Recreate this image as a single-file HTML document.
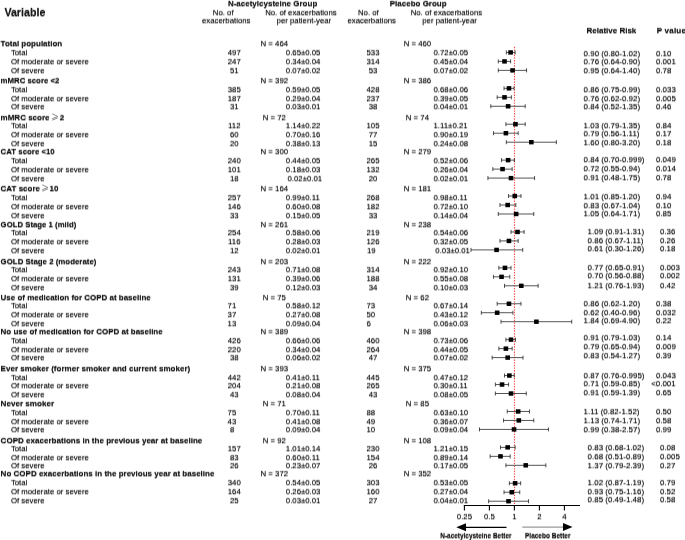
<!DOCTYPE html>
<html><head><meta charset="utf-8"><style>
html,body{margin:0;padding:0;background:#fff;}
body{width:685px;height:540px;position:relative;overflow:hidden;font-family:"Liberation Sans",sans-serif;color:#1a1a1a;}
div{position:absolute;white-space:nowrap;}
#t{left:0;top:0;width:685px;height:540px;filter:grayscale(1);}
#t div{-webkit-text-stroke:0.0px #1a1a1a;text-shadow:0 0.7px 0 rgba(26,26,26,0.45), 0 -0.7px 0 rgba(26,26,26,0.2);}
svg{position:absolute;left:0;top:0;}
</style></head><body>
<svg width="685" height="540" viewBox="0 0 685 540">
<path d="M52.20 113.80 L57.80 116.50 L52.10 118.80 M57.80 117.90 L52.20 120.20" stroke="#666" stroke-width="0.75" fill="none"/>
<path d="M42.30 184.80 L47.90 187.50 L42.20 189.80 M47.90 188.90 L42.30 191.20" stroke="#666" stroke-width="0.75" fill="none"/>
<line x1="514.5" y1="46.8" x2="514.5" y2="505.5" stroke="#ff4d4d" stroke-width="1.15" stroke-dasharray="1.4 1.25"/>
<line x1="506.35" y1="52.43" x2="515.11" y2="52.43" stroke="#555" stroke-width="1"/>
<line x1="506.35" y1="50.43" x2="506.35" y2="54.43" stroke="#222" stroke-width="0.8"/>
<line x1="515.11" y1="50.43" x2="515.11" y2="54.43" stroke="#222" stroke-width="0.8"/>
<rect x="508.30" y="50.23" width="4.6" height="4.4" fill="#000"/>
<line x1="498.30" y1="61.40" x2="510.60" y2="61.40" stroke="#555" stroke-width="1"/>
<line x1="498.30" y1="59.40" x2="498.30" y2="63.40" stroke="#222" stroke-width="0.8"/>
<line x1="510.60" y1="59.40" x2="510.60" y2="63.40" stroke="#222" stroke-width="0.8"/>
<rect x="502.20" y="59.20" width="4.6" height="4.4" fill="#000"/>
<line x1="498.30" y1="70.38" x2="526.54" y2="70.38" stroke="#555" stroke-width="1"/>
<line x1="498.30" y1="68.38" x2="498.30" y2="72.38" stroke="#222" stroke-width="0.8"/>
<line x1="526.54" y1="68.38" x2="526.54" y2="72.38" stroke="#222" stroke-width="0.8"/>
<rect x="510.25" y="68.18" width="4.6" height="4.4" fill="#000"/>
<line x1="504.02" y1="88.33" x2="514.04" y2="88.33" stroke="#555" stroke-width="1"/>
<line x1="504.02" y1="86.33" x2="504.02" y2="90.33" stroke="#222" stroke-width="0.8"/>
<line x1="514.04" y1="86.33" x2="514.04" y2="90.33" stroke="#222" stroke-width="0.8"/>
<rect x="506.66" y="86.13" width="4.6" height="4.4" fill="#000"/>
<line x1="497.16" y1="97.31" x2="511.39" y2="97.31" stroke="#555" stroke-width="1"/>
<line x1="497.16" y1="95.31" x2="497.16" y2="99.31" stroke="#222" stroke-width="0.8"/>
<line x1="511.39" y1="95.31" x2="511.39" y2="99.31" stroke="#222" stroke-width="0.8"/>
<rect x="502.20" y="95.11" width="4.6" height="4.4" fill="#000"/>
<line x1="490.81" y1="106.28" x2="525.22" y2="106.28" stroke="#555" stroke-width="1"/>
<line x1="490.81" y1="104.28" x2="490.81" y2="108.28" stroke="#222" stroke-width="0.8"/>
<line x1="525.22" y1="104.28" x2="525.22" y2="108.28" stroke="#222" stroke-width="0.8"/>
<rect x="505.81" y="104.08" width="4.6" height="4.4" fill="#000"/>
<line x1="505.90" y1="124.23" x2="525.22" y2="124.23" stroke="#555" stroke-width="1"/>
<line x1="505.90" y1="122.23" x2="505.90" y2="126.23" stroke="#222" stroke-width="0.8"/>
<line x1="525.22" y1="122.23" x2="525.22" y2="126.23" stroke="#222" stroke-width="0.8"/>
<rect x="513.17" y="122.03" width="4.6" height="4.4" fill="#000"/>
<line x1="493.49" y1="133.21" x2="518.16" y2="133.21" stroke="#555" stroke-width="1"/>
<line x1="493.49" y1="131.21" x2="493.49" y2="135.21" stroke="#222" stroke-width="0.8"/>
<line x1="518.16" y1="131.21" x2="518.16" y2="135.21" stroke="#222" stroke-width="0.8"/>
<rect x="503.60" y="131.01" width="4.6" height="4.4" fill="#000"/>
<line x1="506.35" y1="142.19" x2="556.35" y2="142.19" stroke="#555" stroke-width="1"/>
<line x1="506.35" y1="140.19" x2="506.35" y2="144.19" stroke="#222" stroke-width="0.8"/>
<line x1="556.35" y1="140.19" x2="556.35" y2="144.19" stroke="#222" stroke-width="0.8"/>
<rect x="529.05" y="139.99" width="4.6" height="4.4" fill="#000"/>
<line x1="501.54" y1="160.14" x2="514.36" y2="160.14" stroke="#555" stroke-width="1"/>
<line x1="501.54" y1="158.14" x2="501.54" y2="162.14" stroke="#222" stroke-width="0.8"/>
<line x1="514.36" y1="158.14" x2="514.36" y2="162.14" stroke="#222" stroke-width="0.8"/>
<rect x="505.81" y="157.94" width="4.6" height="4.4" fill="#000"/>
<line x1="492.84" y1="169.11" x2="512.17" y2="169.11" stroke="#555" stroke-width="1"/>
<line x1="492.84" y1="167.11" x2="492.84" y2="171.11" stroke="#222" stroke-width="0.8"/>
<line x1="512.17" y1="167.11" x2="512.17" y2="171.11" stroke="#222" stroke-width="0.8"/>
<rect x="500.25" y="166.91" width="4.6" height="4.4" fill="#000"/>
<line x1="487.93" y1="178.09" x2="534.58" y2="178.09" stroke="#555" stroke-width="1"/>
<line x1="487.93" y1="176.09" x2="487.93" y2="180.09" stroke="#222" stroke-width="0.8"/>
<line x1="534.58" y1="176.09" x2="534.58" y2="180.09" stroke="#222" stroke-width="0.8"/>
<rect x="508.70" y="175.89" width="4.6" height="4.4" fill="#000"/>
<line x1="508.54" y1="196.04" x2="520.98" y2="196.04" stroke="#555" stroke-width="1"/>
<line x1="508.54" y1="194.04" x2="508.54" y2="198.04" stroke="#222" stroke-width="0.8"/>
<line x1="520.98" y1="194.04" x2="520.98" y2="198.04" stroke="#222" stroke-width="0.8"/>
<rect x="512.46" y="193.84" width="4.6" height="4.4" fill="#000"/>
<line x1="499.96" y1="205.02" x2="515.81" y2="205.02" stroke="#555" stroke-width="1"/>
<line x1="499.96" y1="203.02" x2="499.96" y2="207.02" stroke="#222" stroke-width="0.8"/>
<line x1="515.81" y1="203.02" x2="515.81" y2="207.02" stroke="#222" stroke-width="0.8"/>
<rect x="505.38" y="202.82" width="4.6" height="4.4" fill="#000"/>
<line x1="498.30" y1="213.99" x2="533.75" y2="213.99" stroke="#555" stroke-width="1"/>
<line x1="498.30" y1="211.99" x2="498.30" y2="215.99" stroke="#222" stroke-width="0.8"/>
<line x1="533.75" y1="211.99" x2="533.75" y2="215.99" stroke="#222" stroke-width="0.8"/>
<rect x="513.86" y="211.79" width="4.6" height="4.4" fill="#000"/>
<line x1="511.00" y1="231.95" x2="524.14" y2="231.95" stroke="#555" stroke-width="1"/>
<line x1="511.00" y1="229.95" x2="511.00" y2="233.95" stroke="#222" stroke-width="0.8"/>
<line x1="524.14" y1="229.95" x2="524.14" y2="233.95" stroke="#222" stroke-width="0.8"/>
<rect x="515.21" y="229.75" width="4.6" height="4.4" fill="#000"/>
<line x1="499.96" y1="240.92" x2="518.16" y2="240.92" stroke="#555" stroke-width="1"/>
<line x1="499.96" y1="238.92" x2="499.96" y2="242.92" stroke="#222" stroke-width="0.8"/>
<line x1="518.16" y1="238.92" x2="518.16" y2="242.92" stroke="#222" stroke-width="0.8"/>
<rect x="506.66" y="238.72" width="4.6" height="4.4" fill="#000"/>
<line x1="470.98" y1="249.90" x2="522.74" y2="249.90" stroke="#555" stroke-width="1"/>
<line x1="470.98" y1="247.90" x2="470.98" y2="251.90" stroke="#222" stroke-width="0.8"/>
<line x1="522.74" y1="247.90" x2="522.74" y2="251.90" stroke="#222" stroke-width="0.8"/>
<rect x="494.27" y="247.70" width="4.6" height="4.4" fill="#000"/>
<line x1="498.86" y1="267.85" x2="511.00" y2="267.85" stroke="#555" stroke-width="1"/>
<line x1="498.86" y1="265.85" x2="498.86" y2="269.85" stroke="#222" stroke-width="0.8"/>
<line x1="511.00" y1="265.85" x2="511.00" y2="269.85" stroke="#222" stroke-width="0.8"/>
<rect x="502.67" y="265.65" width="4.6" height="4.4" fill="#000"/>
<line x1="493.49" y1="276.83" x2="509.79" y2="276.83" stroke="#555" stroke-width="1"/>
<line x1="493.49" y1="274.83" x2="493.49" y2="278.83" stroke="#222" stroke-width="0.8"/>
<line x1="509.79" y1="274.83" x2="509.79" y2="278.83" stroke="#222" stroke-width="0.8"/>
<rect x="499.24" y="274.63" width="4.6" height="4.4" fill="#000"/>
<line x1="504.50" y1="285.80" x2="538.12" y2="285.80" stroke="#555" stroke-width="1"/>
<line x1="504.50" y1="283.80" x2="504.50" y2="287.80" stroke="#222" stroke-width="0.8"/>
<line x1="538.12" y1="283.80" x2="538.12" y2="287.80" stroke="#222" stroke-width="0.8"/>
<rect x="518.98" y="283.60" width="4.6" height="4.4" fill="#000"/>
<line x1="497.16" y1="303.75" x2="520.98" y2="303.75" stroke="#555" stroke-width="1"/>
<line x1="497.16" y1="301.75" x2="497.16" y2="305.75" stroke="#222" stroke-width="0.8"/>
<line x1="520.98" y1="301.75" x2="520.98" y2="305.75" stroke="#222" stroke-width="0.8"/>
<rect x="506.66" y="301.55" width="4.6" height="4.4" fill="#000"/>
<line x1="481.35" y1="312.73" x2="512.93" y2="312.73" stroke="#555" stroke-width="1"/>
<line x1="481.35" y1="310.73" x2="481.35" y2="314.73" stroke="#222" stroke-width="0.8"/>
<line x1="512.93" y1="310.73" x2="512.93" y2="314.73" stroke="#222" stroke-width="0.8"/>
<rect x="494.86" y="310.53" width="4.6" height="4.4" fill="#000"/>
<line x1="501.02" y1="321.71" x2="571.72" y2="321.71" stroke="#555" stroke-width="1"/>
<line x1="501.02" y1="319.71" x2="501.02" y2="323.71" stroke="#222" stroke-width="0.8"/>
<line x1="571.72" y1="319.71" x2="571.72" y2="323.71" stroke="#222" stroke-width="0.8"/>
<rect x="534.09" y="319.51" width="4.6" height="4.4" fill="#000"/>
<line x1="505.90" y1="339.66" x2="515.47" y2="339.66" stroke="#555" stroke-width="1"/>
<line x1="505.90" y1="337.66" x2="505.90" y2="341.66" stroke="#222" stroke-width="0.8"/>
<line x1="515.47" y1="337.66" x2="515.47" y2="341.66" stroke="#222" stroke-width="0.8"/>
<rect x="508.70" y="337.46" width="4.6" height="4.4" fill="#000"/>
<line x1="498.86" y1="348.63" x2="512.17" y2="348.63" stroke="#555" stroke-width="1"/>
<line x1="498.86" y1="346.63" x2="498.86" y2="350.63" stroke="#222" stroke-width="0.8"/>
<line x1="512.17" y1="346.63" x2="512.17" y2="350.63" stroke="#222" stroke-width="0.8"/>
<rect x="503.60" y="346.43" width="4.6" height="4.4" fill="#000"/>
<line x1="492.18" y1="357.61" x2="523.02" y2="357.61" stroke="#555" stroke-width="1"/>
<line x1="492.18" y1="355.61" x2="492.18" y2="359.61" stroke="#222" stroke-width="0.8"/>
<line x1="523.02" y1="355.61" x2="523.02" y2="359.61" stroke="#222" stroke-width="0.8"/>
<rect x="505.38" y="355.41" width="4.6" height="4.4" fill="#000"/>
<line x1="504.50" y1="375.56" x2="514.22" y2="375.56" stroke="#555" stroke-width="1"/>
<line x1="504.50" y1="373.56" x2="504.50" y2="377.56" stroke="#222" stroke-width="0.8"/>
<line x1="514.22" y1="373.56" x2="514.22" y2="377.56" stroke="#222" stroke-width="0.8"/>
<rect x="507.08" y="373.36" width="4.6" height="4.4" fill="#000"/>
<line x1="495.37" y1="384.54" x2="508.54" y2="384.54" stroke="#555" stroke-width="1"/>
<line x1="495.37" y1="382.54" x2="495.37" y2="386.54" stroke="#222" stroke-width="0.8"/>
<line x1="508.54" y1="382.54" x2="508.54" y2="386.54" stroke="#222" stroke-width="0.8"/>
<rect x="499.75" y="382.34" width="4.6" height="4.4" fill="#000"/>
<line x1="495.37" y1="393.51" x2="526.28" y2="393.51" stroke="#555" stroke-width="1"/>
<line x1="495.37" y1="391.51" x2="495.37" y2="395.51" stroke="#222" stroke-width="0.8"/>
<line x1="526.28" y1="391.51" x2="526.28" y2="395.51" stroke="#222" stroke-width="0.8"/>
<rect x="508.70" y="391.31" width="4.6" height="4.4" fill="#000"/>
<line x1="507.24" y1="411.47" x2="529.50" y2="411.47" stroke="#555" stroke-width="1"/>
<line x1="507.24" y1="409.47" x2="507.24" y2="413.47" stroke="#222" stroke-width="0.8"/>
<line x1="529.50" y1="409.47" x2="529.50" y2="413.47" stroke="#222" stroke-width="0.8"/>
<rect x="515.86" y="409.27" width="4.6" height="4.4" fill="#000"/>
<line x1="503.54" y1="420.44" x2="533.75" y2="420.44" stroke="#555" stroke-width="1"/>
<line x1="503.54" y1="418.44" x2="503.54" y2="422.44" stroke="#222" stroke-width="0.8"/>
<line x1="533.75" y1="418.44" x2="533.75" y2="422.44" stroke="#222" stroke-width="0.8"/>
<rect x="516.51" y="418.24" width="4.6" height="4.4" fill="#000"/>
<line x1="479.50" y1="429.42" x2="548.44" y2="429.42" stroke="#555" stroke-width="1"/>
<line x1="479.50" y1="427.42" x2="479.50" y2="431.42" stroke="#222" stroke-width="0.8"/>
<line x1="548.44" y1="427.42" x2="548.44" y2="431.42" stroke="#222" stroke-width="0.8"/>
<rect x="511.74" y="427.22" width="4.6" height="4.4" fill="#000"/>
<line x1="500.49" y1="447.37" x2="515.11" y2="447.37" stroke="#555" stroke-width="1"/>
<line x1="500.49" y1="445.37" x2="500.49" y2="449.37" stroke="#222" stroke-width="0.8"/>
<line x1="515.11" y1="445.37" x2="515.11" y2="449.37" stroke="#222" stroke-width="0.8"/>
<rect x="505.38" y="445.17" width="4.6" height="4.4" fill="#000"/>
<line x1="490.11" y1="456.35" x2="510.20" y2="456.35" stroke="#555" stroke-width="1"/>
<line x1="490.11" y1="454.35" x2="490.11" y2="458.35" stroke="#222" stroke-width="0.8"/>
<line x1="510.20" y1="454.35" x2="510.20" y2="458.35" stroke="#222" stroke-width="0.8"/>
<rect x="498.19" y="454.15" width="4.6" height="4.4" fill="#000"/>
<line x1="505.90" y1="465.32" x2="545.83" y2="465.32" stroke="#555" stroke-width="1"/>
<line x1="505.90" y1="463.32" x2="505.90" y2="467.32" stroke="#222" stroke-width="0.8"/>
<line x1="545.83" y1="463.32" x2="545.83" y2="467.32" stroke="#222" stroke-width="0.8"/>
<rect x="523.45" y="463.12" width="4.6" height="4.4" fill="#000"/>
<line x1="509.38" y1="483.27" x2="520.67" y2="483.27" stroke="#555" stroke-width="1"/>
<line x1="509.38" y1="481.27" x2="509.38" y2="485.27" stroke="#222" stroke-width="0.8"/>
<line x1="520.67" y1="481.27" x2="520.67" y2="485.27" stroke="#222" stroke-width="0.8"/>
<rect x="512.81" y="481.07" width="4.6" height="4.4" fill="#000"/>
<line x1="504.02" y1="492.25" x2="519.75" y2="492.25" stroke="#555" stroke-width="1"/>
<line x1="504.02" y1="490.25" x2="504.02" y2="494.25" stroke="#222" stroke-width="0.8"/>
<line x1="519.75" y1="490.25" x2="519.75" y2="494.25" stroke="#222" stroke-width="0.8"/>
<rect x="509.48" y="490.05" width="4.6" height="4.4" fill="#000"/>
<line x1="488.67" y1="501.23" x2="528.54" y2="501.23" stroke="#555" stroke-width="1"/>
<line x1="488.67" y1="499.23" x2="488.67" y2="503.23" stroke="#222" stroke-width="0.8"/>
<line x1="528.54" y1="499.23" x2="528.54" y2="503.23" stroke="#222" stroke-width="0.8"/>
<rect x="506.24" y="499.03" width="4.6" height="4.4" fill="#000"/>
<line x1="463.8" y1="505.5" x2="580" y2="505.5" stroke="#000" stroke-width="1.2"/>
<line x1="464.40" y1="505.5" x2="464.40" y2="510.4" stroke="#000" stroke-width="1.1"/>
<line x1="489.40" y1="505.5" x2="489.40" y2="510.4" stroke="#000" stroke-width="1.1"/>
<line x1="514.40" y1="505.5" x2="514.40" y2="510.4" stroke="#000" stroke-width="1.1"/>
<line x1="539.40" y1="505.5" x2="539.40" y2="510.4" stroke="#000" stroke-width="1.1"/>
<line x1="564.40" y1="505.5" x2="564.40" y2="510.4" stroke="#000" stroke-width="1.1"/>
<line x1="465" y1="527.3" x2="506.5" y2="527.3" stroke="#000" stroke-width="1.3"/>
<polygon points="456.3,527.2 466,523.2 466,531.2" fill="#000"/>
<line x1="522.3" y1="527.2" x2="564" y2="527.2" stroke="#999" stroke-width="1.3"/>
<polygon points="572.5,527.1 563,523.1 563,531.1" fill="#000"/>
</svg>
<div id="t">
<div style="left:4.40px;top:7.00px;font-size:10.7px;line-height:10.7px;font-weight:bold">Variable</div>
<div style="left:212.60px;width:120px;text-align:center;top:0.00px;font-size:8.0px;line-height:8.0px;font-weight:bold">N-acetylcysteine Group</div>
<div style="left:163.20px;width:120px;text-align:center;top:9.00px;font-size:7.8px;line-height:7.8px">No. of</div>
<div style="left:166.20px;width:120px;text-align:center;top:17.00px;font-size:7.8px;line-height:7.8px">exacerbations</div>
<div style="left:240.90px;width:120px;text-align:center;top:9.00px;font-size:7.8px;line-height:7.8px">No. of exacerbations</div>
<div style="left:243.90px;width:120px;text-align:center;top:17.00px;font-size:7.8px;line-height:7.8px">per patient-year</div>
<div style="left:358.20px;width:120px;text-align:center;top:0.00px;font-size:8.0px;line-height:8.0px;font-weight:bold">Placebo Group</div>
<div style="left:308.40px;width:120px;text-align:center;top:9.00px;font-size:7.8px;line-height:7.8px">No. of</div>
<div style="left:311.70px;width:120px;text-align:center;top:17.00px;font-size:7.8px;line-height:7.8px">exacerbations</div>
<div style="left:386.40px;width:120px;text-align:center;top:9.00px;font-size:7.8px;line-height:7.8px">No. of exacerbations</div>
<div style="left:389.60px;width:120px;text-align:center;top:17.00px;font-size:7.8px;line-height:7.8px">per patient-year</div>
<div style="left:586.50px;top:27.00px;font-size:8.0px;line-height:8.0px;font-weight:bold">Relative Risk</div>
<div style="left:656.70px;top:27.00px;font-size:8.0px;line-height:8.0px;font-weight:bold;letter-spacing:0.22px">P value</div>
<div style="left:0.60px;top:40.00px;font-size:8.0px;line-height:8.0px;font-weight:bold">Total population</div>
<div style="left:214.30px;width:120px;text-align:center;top:40.00px;font-size:7.8px;line-height:7.8px">N = 464</div>
<div style="left:357.40px;width:120px;text-align:center;top:40.00px;font-size:7.8px;line-height:7.8px">N = 460</div>
<div style="left:10.90px;top:49.00px;font-size:7.8px;line-height:7.8px">Total</div>
<div style="left:174.30px;width:120px;text-align:center;top:49.00px;font-size:7.8px;line-height:7.8px">497</div>
<div style="left:285.80px;top:49.00px;font-size:7.8px;line-height:7.8px">0.65±0.05</div>
<div style="left:313.00px;width:120px;text-align:center;top:49.00px;font-size:7.8px;line-height:7.8px">533</div>
<div style="left:433.50px;top:49.00px;font-size:7.8px;line-height:7.8px">0.72±0.05</div>
<div style="left:583.60px;top:50.00px;font-size:7.95px;line-height:7.95px">0.90 (0.80-1.02)</div>
<div style="left:656.00px;top:50.00px;font-size:7.95px;line-height:7.95px">0.10</div>
<div style="left:10.90px;top:58.00px;font-size:7.8px;line-height:7.8px">Of moderate or severe</div>
<div style="left:174.30px;width:120px;text-align:center;top:58.00px;font-size:7.8px;line-height:7.8px">247</div>
<div style="left:285.80px;top:58.00px;font-size:7.8px;line-height:7.8px">0.34±0.04</div>
<div style="left:313.00px;width:120px;text-align:center;top:58.00px;font-size:7.8px;line-height:7.8px">314</div>
<div style="left:433.50px;top:58.00px;font-size:7.8px;line-height:7.8px">0.45±0.04</div>
<div style="left:583.60px;top:58.00px;font-size:7.95px;line-height:7.95px">0.76 (0.64-0.90)</div>
<div style="left:656.00px;top:58.00px;font-size:7.95px;line-height:7.95px">0.001</div>
<div style="left:10.90px;top:67.00px;font-size:7.8px;line-height:7.8px">Of severe</div>
<div style="left:174.30px;width:120px;text-align:center;top:67.00px;font-size:7.8px;line-height:7.8px">51</div>
<div style="left:285.80px;top:67.00px;font-size:7.8px;line-height:7.8px">0.07±0.02</div>
<div style="left:313.00px;width:120px;text-align:center;top:67.00px;font-size:7.8px;line-height:7.8px">53</div>
<div style="left:433.50px;top:67.00px;font-size:7.8px;line-height:7.8px">0.07±0.02</div>
<div style="left:583.60px;top:67.00px;font-size:7.95px;line-height:7.95px">0.95 (0.64-1.40)</div>
<div style="left:656.00px;top:67.00px;font-size:7.95px;line-height:7.95px">0.78</div>
<div style="left:0.60px;top:77.00px;font-size:7.81px;line-height:7.81px;font-weight:bold">mMRC score &lt;2</div>
<div style="left:214.30px;width:120px;text-align:center;top:77.00px;font-size:7.8px;line-height:7.8px">N = 392</div>
<div style="left:357.40px;width:120px;text-align:center;top:77.00px;font-size:7.8px;line-height:7.8px">N = 386</div>
<div style="left:10.90px;top:86.00px;font-size:7.8px;line-height:7.8px">Total</div>
<div style="left:174.30px;width:120px;text-align:center;top:86.00px;font-size:7.8px;line-height:7.8px">385</div>
<div style="left:285.80px;top:86.00px;font-size:7.8px;line-height:7.8px">0.59±0.05</div>
<div style="left:313.00px;width:120px;text-align:center;top:86.00px;font-size:7.8px;line-height:7.8px">428</div>
<div style="left:433.50px;top:86.00px;font-size:7.8px;line-height:7.8px">0.68±0.06</div>
<div style="left:583.60px;top:86.00px;font-size:7.95px;line-height:7.95px">0.86 (0.75-0.99)</div>
<div style="left:656.00px;top:86.00px;font-size:7.95px;line-height:7.95px">0.033</div>
<div style="left:10.90px;top:95.00px;font-size:7.8px;line-height:7.8px">Of moderate or severe</div>
<div style="left:174.30px;width:120px;text-align:center;top:95.00px;font-size:7.8px;line-height:7.8px">187</div>
<div style="left:285.80px;top:95.00px;font-size:7.8px;line-height:7.8px">0.29±0.04</div>
<div style="left:313.00px;width:120px;text-align:center;top:95.00px;font-size:7.8px;line-height:7.8px">237</div>
<div style="left:433.50px;top:95.00px;font-size:7.8px;line-height:7.8px">0.39±0.05</div>
<div style="left:583.60px;top:95.00px;font-size:7.95px;line-height:7.95px">0.76 (0.62-0.92)</div>
<div style="left:656.00px;top:95.00px;font-size:7.95px;line-height:7.95px">0.005</div>
<div style="left:10.90px;top:103.00px;font-size:7.8px;line-height:7.8px">Of severe</div>
<div style="left:174.30px;width:120px;text-align:center;top:103.00px;font-size:7.8px;line-height:7.8px">31</div>
<div style="left:285.80px;top:103.00px;font-size:7.8px;line-height:7.8px">0.03±0.01</div>
<div style="left:313.00px;width:120px;text-align:center;top:103.00px;font-size:7.8px;line-height:7.8px">38</div>
<div style="left:433.50px;top:103.00px;font-size:7.8px;line-height:7.8px">0.04±0.01</div>
<div style="left:583.60px;top:103.00px;font-size:7.95px;line-height:7.95px">0.84 (0.52-1.35)</div>
<div style="left:656.00px;top:103.00px;font-size:7.95px;line-height:7.95px">0.46</div>
<div style="left:0.60px;top:114.00px;font-size:8.0px;line-height:8.0px;font-weight:bold">mMRC score</div>
<div style="left:59.70px;top:114.00px;font-size:8.0px;line-height:8.0px;font-weight:bold">2</div>
<div style="left:214.30px;width:120px;text-align:center;top:114.00px;font-size:7.8px;line-height:7.8px">N = 72</div>
<div style="left:357.40px;width:120px;text-align:center;top:114.00px;font-size:7.8px;line-height:7.8px">N = 74</div>
<div style="left:10.90px;top:122.00px;font-size:7.8px;line-height:7.8px">Total</div>
<div style="left:174.30px;width:120px;text-align:center;top:122.00px;font-size:7.8px;line-height:7.8px">112</div>
<div style="left:285.80px;top:122.00px;font-size:7.8px;line-height:7.8px">1.14±0.22</div>
<div style="left:313.00px;width:120px;text-align:center;top:122.00px;font-size:7.8px;line-height:7.8px">105</div>
<div style="left:433.50px;top:122.00px;font-size:7.8px;line-height:7.8px">1.11±0.21</div>
<div style="left:583.60px;top:122.00px;font-size:7.95px;line-height:7.95px">1.03 (0.79-1.35)</div>
<div style="left:656.00px;top:122.00px;font-size:7.95px;line-height:7.95px">0.84</div>
<div style="left:10.90px;top:131.00px;font-size:7.8px;line-height:7.8px">Of moderate or severe</div>
<div style="left:174.30px;width:120px;text-align:center;top:131.00px;font-size:7.8px;line-height:7.8px">60</div>
<div style="left:285.80px;top:131.00px;font-size:7.8px;line-height:7.8px">0.70±0.16</div>
<div style="left:313.00px;width:120px;text-align:center;top:131.00px;font-size:7.8px;line-height:7.8px">77</div>
<div style="left:433.50px;top:131.00px;font-size:7.8px;line-height:7.8px">0.90±0.19</div>
<div style="left:583.60px;top:130.00px;font-size:7.95px;line-height:7.95px">0.79 (0.56-1.11)</div>
<div style="left:656.00px;top:130.00px;font-size:7.95px;line-height:7.95px">0.17</div>
<div style="left:10.90px;top:140.00px;font-size:7.8px;line-height:7.8px">Of severe</div>
<div style="left:174.30px;width:120px;text-align:center;top:140.00px;font-size:7.8px;line-height:7.8px">20</div>
<div style="left:285.80px;top:140.00px;font-size:7.8px;line-height:7.8px">0.38±0.13</div>
<div style="left:313.00px;width:120px;text-align:center;top:140.00px;font-size:7.8px;line-height:7.8px">15</div>
<div style="left:433.50px;top:140.00px;font-size:7.8px;line-height:7.8px">0.24±0.08</div>
<div style="left:583.60px;top:139.00px;font-size:7.95px;line-height:7.95px">1.60 (0.80-3.20)</div>
<div style="left:656.00px;top:139.00px;font-size:7.95px;line-height:7.95px">0.18</div>
<div style="left:0.60px;top:148.00px;font-size:7.85px;line-height:7.85px;font-weight:bold">CAT score &lt;10</div>
<div style="left:214.30px;width:120px;text-align:center;top:148.00px;font-size:7.8px;line-height:7.8px">N = 300</div>
<div style="left:357.40px;width:120px;text-align:center;top:148.00px;font-size:7.8px;line-height:7.8px">N = 279</div>
<div style="left:10.90px;top:157.00px;font-size:7.8px;line-height:7.8px">Total</div>
<div style="left:174.30px;width:120px;text-align:center;top:157.00px;font-size:7.8px;line-height:7.8px">240</div>
<div style="left:285.80px;top:157.00px;font-size:7.8px;line-height:7.8px">0.44±0.05</div>
<div style="left:313.00px;width:120px;text-align:center;top:157.00px;font-size:7.8px;line-height:7.8px">265</div>
<div style="left:433.50px;top:157.00px;font-size:7.8px;line-height:7.8px">0.52±0.06</div>
<div style="left:583.60px;top:156.00px;font-size:7.95px;line-height:7.95px">0.84 (0.70-0.999)</div>
<div style="left:656.00px;top:156.00px;font-size:7.95px;line-height:7.95px">0.049</div>
<div style="left:10.90px;top:166.00px;font-size:7.8px;line-height:7.8px">Of moderate or severe</div>
<div style="left:174.30px;width:120px;text-align:center;top:166.00px;font-size:7.8px;line-height:7.8px">101</div>
<div style="left:285.80px;top:166.00px;font-size:7.8px;line-height:7.8px">0.18±0.03</div>
<div style="left:313.00px;width:120px;text-align:center;top:166.00px;font-size:7.8px;line-height:7.8px">132</div>
<div style="left:433.50px;top:166.00px;font-size:7.8px;line-height:7.8px">0.26±0.04</div>
<div style="left:583.60px;top:165.00px;font-size:7.95px;line-height:7.95px">0.72 (0.55-0.94)</div>
<div style="left:656.00px;top:165.00px;font-size:7.95px;line-height:7.95px">0.014</div>
<div style="left:10.90px;top:175.00px;font-size:7.8px;line-height:7.8px">Of severe</div>
<div style="left:174.30px;width:120px;text-align:center;top:175.00px;font-size:7.8px;line-height:7.8px">18</div>
<div style="left:287.50px;top:175.00px;font-size:7.8px;line-height:7.8px">0.02±0.01</div>
<div style="left:313.00px;width:120px;text-align:center;top:175.00px;font-size:7.8px;line-height:7.8px">20</div>
<div style="left:433.50px;top:175.00px;font-size:7.8px;line-height:7.8px">0.02±0.01</div>
<div style="left:583.60px;top:174.00px;font-size:7.95px;line-height:7.95px">0.91 (0.48-1.75)</div>
<div style="left:656.00px;top:174.00px;font-size:7.95px;line-height:7.95px">0.78</div>
<div style="left:0.60px;top:185.00px;font-size:8.0px;line-height:8.0px;font-weight:bold">CAT score</div>
<div style="left:49.60px;top:185.00px;font-size:8.0px;line-height:8.0px;font-weight:bold">10</div>
<div style="left:214.30px;width:120px;text-align:center;top:185.00px;font-size:7.8px;line-height:7.8px">N = 164</div>
<div style="left:357.40px;width:120px;text-align:center;top:185.00px;font-size:7.8px;line-height:7.8px">N = 181</div>
<div style="left:10.90px;top:194.00px;font-size:7.8px;line-height:7.8px">Total</div>
<div style="left:174.30px;width:120px;text-align:center;top:194.00px;font-size:7.8px;line-height:7.8px">257</div>
<div style="left:285.80px;top:194.00px;font-size:7.8px;line-height:7.8px">0.99±0.11</div>
<div style="left:313.00px;width:120px;text-align:center;top:194.00px;font-size:7.8px;line-height:7.8px">268</div>
<div style="left:433.50px;top:194.00px;font-size:7.8px;line-height:7.8px">0.98±0.11</div>
<div style="left:583.60px;top:193.00px;font-size:7.95px;line-height:7.95px">1.01 (0.85-1.20)</div>
<div style="left:656.00px;top:193.00px;font-size:7.95px;line-height:7.95px">0.94</div>
<div style="left:10.90px;top:203.00px;font-size:7.8px;line-height:7.8px">Of moderate or severe</div>
<div style="left:174.30px;width:120px;text-align:center;top:203.00px;font-size:7.8px;line-height:7.8px">146</div>
<div style="left:285.80px;top:203.00px;font-size:7.8px;line-height:7.8px">0.60±0.08</div>
<div style="left:313.00px;width:120px;text-align:center;top:203.00px;font-size:7.8px;line-height:7.8px">182</div>
<div style="left:433.50px;top:203.00px;font-size:7.8px;line-height:7.8px">0.72±0.10</div>
<div style="left:583.60px;top:202.00px;font-size:7.95px;line-height:7.95px">0.83 (0.67-1.04)</div>
<div style="left:656.00px;top:202.00px;font-size:7.95px;line-height:7.95px">0.10</div>
<div style="left:10.90px;top:212.00px;font-size:7.8px;line-height:7.8px">Of severe</div>
<div style="left:174.30px;width:120px;text-align:center;top:212.00px;font-size:7.8px;line-height:7.8px">33</div>
<div style="left:285.80px;top:212.00px;font-size:7.8px;line-height:7.8px">0.15±0.05</div>
<div style="left:313.00px;width:120px;text-align:center;top:212.00px;font-size:7.8px;line-height:7.8px">33</div>
<div style="left:433.50px;top:212.00px;font-size:7.8px;line-height:7.8px">0.14±0.04</div>
<div style="left:583.60px;top:210.00px;font-size:7.95px;line-height:7.95px">1.05 (0.64-1.71)</div>
<div style="left:656.00px;top:210.00px;font-size:7.95px;line-height:7.95px">0.85</div>
<div style="left:0.60px;top:221.00px;font-size:7.79px;line-height:7.79px;font-weight:bold">GOLD Stage 1 (mild)</div>
<div style="left:214.30px;width:120px;text-align:center;top:221.00px;font-size:7.8px;line-height:7.8px">N = 261</div>
<div style="left:357.40px;width:120px;text-align:center;top:221.00px;font-size:7.8px;line-height:7.8px">N = 238</div>
<div style="left:10.90px;top:229.00px;font-size:7.8px;line-height:7.8px">Total</div>
<div style="left:174.30px;width:120px;text-align:center;top:229.00px;font-size:7.8px;line-height:7.8px">254</div>
<div style="left:285.80px;top:229.00px;font-size:7.8px;line-height:7.8px">0.58±0.06</div>
<div style="left:313.00px;width:120px;text-align:center;top:229.00px;font-size:7.8px;line-height:7.8px">219</div>
<div style="left:433.50px;top:229.00px;font-size:7.8px;line-height:7.8px">0.54±0.06</div>
<div style="left:587.60px;top:228.00px;font-size:7.95px;line-height:7.95px">1.09 (0.91-1.31)</div>
<div style="left:660.00px;top:228.00px;font-size:7.95px;line-height:7.95px">0.36</div>
<div style="left:10.90px;top:238.00px;font-size:7.8px;line-height:7.8px">Of moderate or severe</div>
<div style="left:174.30px;width:120px;text-align:center;top:238.00px;font-size:7.8px;line-height:7.8px">116</div>
<div style="left:285.80px;top:238.00px;font-size:7.8px;line-height:7.8px">0.28±0.03</div>
<div style="left:313.00px;width:120px;text-align:center;top:238.00px;font-size:7.8px;line-height:7.8px">126</div>
<div style="left:433.50px;top:238.00px;font-size:7.8px;line-height:7.8px">0.32±0.05</div>
<div style="left:587.60px;top:237.00px;font-size:7.95px;line-height:7.95px">0.86 (0.67-1.11)</div>
<div style="left:660.00px;top:237.00px;font-size:7.95px;line-height:7.95px">0.26</div>
<div style="left:10.90px;top:247.00px;font-size:7.8px;line-height:7.8px">Of severe</div>
<div style="left:174.30px;width:120px;text-align:center;top:247.00px;font-size:7.8px;line-height:7.8px">12</div>
<div style="left:285.80px;top:247.00px;font-size:7.8px;line-height:7.8px">0.02±0.01</div>
<div style="left:366.90px;top:247.00px;font-size:7.8px;line-height:7.8px">19</div>
<div style="left:435.30px;top:247.00px;font-size:7.8px;line-height:7.8px">0.03±0.01</div>
<div style="left:587.60px;top:245.00px;font-size:7.95px;line-height:7.95px">0.61 (0.30-1.26)</div>
<div style="left:660.00px;top:245.00px;font-size:7.95px;line-height:7.95px">0.18</div>
<div style="left:0.60px;top:258.00px;font-size:7.89px;line-height:7.89px;font-weight:bold">GOLD Stage 2 (moderate)</div>
<div style="left:214.30px;width:120px;text-align:center;top:258.00px;font-size:7.8px;line-height:7.8px">N = 203</div>
<div style="left:357.40px;width:120px;text-align:center;top:258.00px;font-size:7.8px;line-height:7.8px">N = 222</div>
<div style="left:10.90px;top:266.00px;font-size:7.8px;line-height:7.8px">Total</div>
<div style="left:174.30px;width:120px;text-align:center;top:266.00px;font-size:7.8px;line-height:7.8px">243</div>
<div style="left:285.80px;top:266.00px;font-size:7.8px;line-height:7.8px">0.71±0.08</div>
<div style="left:313.00px;width:120px;text-align:center;top:266.00px;font-size:7.8px;line-height:7.8px">314</div>
<div style="left:433.50px;top:266.00px;font-size:7.8px;line-height:7.8px">0.92±0.10</div>
<div style="left:587.60px;top:264.00px;font-size:7.95px;line-height:7.95px">0.77 (0.65-0.91)</div>
<div style="left:660.00px;top:264.00px;font-size:7.95px;line-height:7.95px">0.003</div>
<div style="left:10.90px;top:275.00px;font-size:7.8px;line-height:7.8px">Of moderate or severe</div>
<div style="left:174.30px;width:120px;text-align:center;top:275.00px;font-size:7.8px;line-height:7.8px">131</div>
<div style="left:285.80px;top:275.00px;font-size:7.8px;line-height:7.8px">0.39±0.06</div>
<div style="left:313.00px;width:120px;text-align:center;top:275.00px;font-size:7.8px;line-height:7.8px">188</div>
<div style="left:433.50px;top:275.00px;font-size:7.8px;line-height:7.8px">0.55±0.08</div>
<div style="left:587.60px;top:272.00px;font-size:7.95px;line-height:7.95px">0.70 (0.56-0.88)</div>
<div style="left:660.00px;top:272.00px;font-size:7.95px;line-height:7.95px">0.002</div>
<div style="left:10.90px;top:284.00px;font-size:7.8px;line-height:7.8px">Of severe</div>
<div style="left:174.30px;width:120px;text-align:center;top:284.00px;font-size:7.8px;line-height:7.8px">39</div>
<div style="left:285.80px;top:284.00px;font-size:7.8px;line-height:7.8px">0.12±0.03</div>
<div style="left:313.00px;width:120px;text-align:center;top:284.00px;font-size:7.8px;line-height:7.8px">34</div>
<div style="left:433.50px;top:284.00px;font-size:7.8px;line-height:7.8px">0.10±0.03</div>
<div style="left:587.60px;top:282.00px;font-size:7.95px;line-height:7.95px">1.21 (0.76-1.93)</div>
<div style="left:660.00px;top:282.00px;font-size:7.95px;line-height:7.95px">0.42</div>
<div style="left:0.60px;top:294.00px;font-size:7.97px;line-height:7.97px;font-weight:bold">Use of medication for COPD at baseline</div>
<div style="left:214.30px;width:120px;text-align:center;top:294.00px;font-size:7.8px;line-height:7.8px">N = 75</div>
<div style="left:357.40px;width:120px;text-align:center;top:294.00px;font-size:7.8px;line-height:7.8px">N = 62</div>
<div style="left:10.90px;top:302.00px;font-size:7.8px;line-height:7.8px">Total</div>
<div style="left:227.60px;top:302.00px;font-size:7.8px;line-height:7.8px">71</div>
<div style="left:285.80px;top:302.00px;font-size:7.8px;line-height:7.8px">0.58±0.12</div>
<div style="left:366.40px;top:302.00px;font-size:7.8px;line-height:7.8px">73</div>
<div style="left:433.50px;top:302.00px;font-size:7.8px;line-height:7.8px">0.67±0.14</div>
<div style="left:583.60px;top:300.00px;font-size:7.95px;line-height:7.95px">0.86 (0.62-1.20)</div>
<div style="left:656.00px;top:300.00px;font-size:7.95px;line-height:7.95px">0.38</div>
<div style="left:10.90px;top:311.00px;font-size:7.8px;line-height:7.8px">Of moderate or severe</div>
<div style="left:227.60px;top:311.00px;font-size:7.8px;line-height:7.8px">37</div>
<div style="left:285.80px;top:311.00px;font-size:7.8px;line-height:7.8px">0.27±0.08</div>
<div style="left:366.40px;top:311.00px;font-size:7.8px;line-height:7.8px">50</div>
<div style="left:433.50px;top:311.00px;font-size:7.8px;line-height:7.8px">0.43±0.12</div>
<div style="left:583.60px;top:309.00px;font-size:7.95px;line-height:7.95px">0.62 (0.40-0.96)</div>
<div style="left:656.00px;top:309.00px;font-size:7.95px;line-height:7.95px">0.032</div>
<div style="left:10.90px;top:320.00px;font-size:7.8px;line-height:7.8px">Of severe</div>
<div style="left:227.60px;top:320.00px;font-size:7.8px;line-height:7.8px">13</div>
<div style="left:285.80px;top:320.00px;font-size:7.8px;line-height:7.8px">0.09±0.04</div>
<div style="left:366.40px;top:320.00px;font-size:7.8px;line-height:7.8px">6</div>
<div style="left:433.50px;top:320.00px;font-size:7.8px;line-height:7.8px">0.06±0.03</div>
<div style="left:583.60px;top:317.00px;font-size:7.95px;line-height:7.95px">1.84 (0.69-4.90)</div>
<div style="left:656.00px;top:317.00px;font-size:7.95px;line-height:7.95px">0.22</div>
<div style="left:0.60px;top:328.00px;font-size:7.98px;line-height:7.98px;font-weight:bold">No use of medication for COPD at baseline</div>
<div style="left:214.30px;width:120px;text-align:center;top:328.00px;font-size:7.8px;line-height:7.8px">N = 389</div>
<div style="left:357.40px;width:120px;text-align:center;top:328.00px;font-size:7.8px;line-height:7.8px">N = 398</div>
<div style="left:10.90px;top:337.00px;font-size:7.8px;line-height:7.8px">Total</div>
<div style="left:174.30px;width:120px;text-align:center;top:337.00px;font-size:7.8px;line-height:7.8px">426</div>
<div style="left:285.80px;top:337.00px;font-size:7.8px;line-height:7.8px">0.66±0.06</div>
<div style="left:313.00px;width:120px;text-align:center;top:337.00px;font-size:7.8px;line-height:7.8px">460</div>
<div style="left:433.50px;top:337.00px;font-size:7.8px;line-height:7.8px">0.73±0.06</div>
<div style="left:583.60px;top:334.00px;font-size:7.95px;line-height:7.95px">0.91 (0.79-1.03)</div>
<div style="left:656.00px;top:334.00px;font-size:7.95px;line-height:7.95px">0.14</div>
<div style="left:10.90px;top:346.00px;font-size:7.8px;line-height:7.8px">Of moderate or severe</div>
<div style="left:174.30px;width:120px;text-align:center;top:346.00px;font-size:7.8px;line-height:7.8px">220</div>
<div style="left:285.80px;top:346.00px;font-size:7.8px;line-height:7.8px">0.34±0.04</div>
<div style="left:313.00px;width:120px;text-align:center;top:346.00px;font-size:7.8px;line-height:7.8px">264</div>
<div style="left:433.50px;top:346.00px;font-size:7.8px;line-height:7.8px">0.44±0.05</div>
<div style="left:583.60px;top:343.00px;font-size:7.95px;line-height:7.95px">0.79 (0.65-0.94)</div>
<div style="left:656.00px;top:343.00px;font-size:7.95px;line-height:7.95px">0.009</div>
<div style="left:10.90px;top:354.00px;font-size:7.8px;line-height:7.8px">Of severe</div>
<div style="left:174.30px;width:120px;text-align:center;top:354.00px;font-size:7.8px;line-height:7.8px">38</div>
<div style="left:285.80px;top:354.00px;font-size:7.8px;line-height:7.8px">0.06±0.02</div>
<div style="left:313.00px;width:120px;text-align:center;top:354.00px;font-size:7.8px;line-height:7.8px">47</div>
<div style="left:433.50px;top:354.00px;font-size:7.8px;line-height:7.8px">0.07±0.02</div>
<div style="left:583.60px;top:352.00px;font-size:7.95px;line-height:7.95px">0.83 (0.54-1.27)</div>
<div style="left:656.00px;top:352.00px;font-size:7.95px;line-height:7.95px">0.39</div>
<div style="left:0.60px;top:365.00px;font-size:8.06px;line-height:8.06px;font-weight:bold">Ever smoker (former smoker and current smoker)</div>
<div style="left:214.30px;width:120px;text-align:center;top:365.00px;font-size:7.8px;line-height:7.8px">N = 393</div>
<div style="left:357.40px;width:120px;text-align:center;top:365.00px;font-size:7.8px;line-height:7.8px">N = 375</div>
<div style="left:10.90px;top:374.00px;font-size:7.8px;line-height:7.8px">Total</div>
<div style="left:174.30px;width:120px;text-align:center;top:374.00px;font-size:7.8px;line-height:7.8px">442</div>
<div style="left:285.80px;top:374.00px;font-size:7.8px;line-height:7.8px">0.41±0.11</div>
<div style="left:313.00px;width:120px;text-align:center;top:374.00px;font-size:7.8px;line-height:7.8px">445</div>
<div style="left:433.50px;top:374.00px;font-size:7.8px;line-height:7.8px">0.47±0.12</div>
<div style="left:583.60px;top:372.00px;font-size:7.95px;line-height:7.95px">0.87 (0.76-0.995)</div>
<div style="left:656.00px;top:372.00px;font-size:7.95px;line-height:7.95px">0.043</div>
<div style="left:10.90px;top:382.00px;font-size:7.8px;line-height:7.8px">Of moderate or severe</div>
<div style="left:174.30px;width:120px;text-align:center;top:382.00px;font-size:7.8px;line-height:7.8px">204</div>
<div style="left:285.80px;top:382.00px;font-size:7.8px;line-height:7.8px">0.21±0.08</div>
<div style="left:313.00px;width:120px;text-align:center;top:382.00px;font-size:7.8px;line-height:7.8px">265</div>
<div style="left:433.50px;top:382.00px;font-size:7.8px;line-height:7.8px">0.30±0.11</div>
<div style="left:583.60px;top:380.00px;font-size:7.95px;line-height:7.95px">0.71 (0.59-0.85)</div>
<div style="left:651.20px;top:380.00px;font-size:7.95px;line-height:7.95px">&lt;0.001</div>
<div style="left:10.90px;top:391.00px;font-size:7.8px;line-height:7.8px">Of severe</div>
<div style="left:174.30px;width:120px;text-align:center;top:391.00px;font-size:7.8px;line-height:7.8px">43</div>
<div style="left:285.80px;top:391.00px;font-size:7.8px;line-height:7.8px">0.08±0.04</div>
<div style="left:313.00px;width:120px;text-align:center;top:391.00px;font-size:7.8px;line-height:7.8px">43</div>
<div style="left:433.50px;top:391.00px;font-size:7.8px;line-height:7.8px">0.08±0.05</div>
<div style="left:583.60px;top:389.00px;font-size:7.95px;line-height:7.95px">0.91 (0.59-1.39)</div>
<div style="left:656.00px;top:389.00px;font-size:7.95px;line-height:7.95px">0.65</div>
<div style="left:0.60px;top:400.00px;font-size:8.1px;line-height:8.1px;font-weight:bold">Never smoker</div>
<div style="left:214.30px;width:120px;text-align:center;top:400.00px;font-size:7.8px;line-height:7.8px">N = 71</div>
<div style="left:357.40px;width:120px;text-align:center;top:400.00px;font-size:7.8px;line-height:7.8px">N = 85</div>
<div style="left:10.90px;top:409.00px;font-size:7.8px;line-height:7.8px">Total</div>
<div style="left:227.60px;top:409.00px;font-size:7.8px;line-height:7.8px">75</div>
<div style="left:285.80px;top:409.00px;font-size:7.8px;line-height:7.8px">0.70±0.11</div>
<div style="left:366.40px;top:409.00px;font-size:7.8px;line-height:7.8px">88</div>
<div style="left:433.50px;top:409.00px;font-size:7.8px;line-height:7.8px">0.63±0.10</div>
<div style="left:583.60px;top:408.00px;font-size:7.95px;line-height:7.95px">1.11 (0.82-1.52)</div>
<div style="left:656.00px;top:408.00px;font-size:7.95px;line-height:7.95px">0.50</div>
<div style="left:10.90px;top:418.00px;font-size:7.8px;line-height:7.8px">Of moderate or severe</div>
<div style="left:227.60px;top:418.00px;font-size:7.8px;line-height:7.8px">43</div>
<div style="left:285.80px;top:418.00px;font-size:7.8px;line-height:7.8px">0.41±0.08</div>
<div style="left:366.40px;top:418.00px;font-size:7.8px;line-height:7.8px">49</div>
<div style="left:433.50px;top:418.00px;font-size:7.8px;line-height:7.8px">0.36±0.07</div>
<div style="left:583.60px;top:417.00px;font-size:7.95px;line-height:7.95px">1.13 (0.74-1.71)</div>
<div style="left:656.00px;top:417.00px;font-size:7.95px;line-height:7.95px">0.58</div>
<div style="left:10.90px;top:426.00px;font-size:7.8px;line-height:7.8px">Of severe</div>
<div style="left:229.90px;top:426.00px;font-size:7.8px;line-height:7.8px">8</div>
<div style="left:285.80px;top:426.00px;font-size:7.8px;line-height:7.8px">0.09±0.04</div>
<div style="left:366.40px;top:426.00px;font-size:7.8px;line-height:7.8px">10</div>
<div style="left:433.50px;top:426.00px;font-size:7.8px;line-height:7.8px">0.09±0.04</div>
<div style="left:583.60px;top:426.00px;font-size:7.95px;line-height:7.95px">0.99 (0.38-2.57)</div>
<div style="left:656.00px;top:426.00px;font-size:7.95px;line-height:7.95px">0.99</div>
<div style="left:0.60px;top:437.00px;font-size:8.05px;line-height:8.05px;font-weight:bold">COPD exacerbations in the previous year at baseline</div>
<div style="left:214.30px;width:120px;text-align:center;top:437.00px;font-size:7.8px;line-height:7.8px">N = 92</div>
<div style="left:357.40px;width:120px;text-align:center;top:437.00px;font-size:7.8px;line-height:7.8px">N = 108</div>
<div style="left:10.90px;top:445.00px;font-size:7.8px;line-height:7.8px">Total</div>
<div style="left:174.30px;width:120px;text-align:center;top:445.00px;font-size:7.8px;line-height:7.8px">157</div>
<div style="left:285.80px;top:445.00px;font-size:7.8px;line-height:7.8px">1.01±0.14</div>
<div style="left:313.00px;width:120px;text-align:center;top:445.00px;font-size:7.8px;line-height:7.8px">230</div>
<div style="left:433.50px;top:445.00px;font-size:7.8px;line-height:7.8px">1.21±0.15</div>
<div style="left:587.60px;top:444.00px;font-size:7.95px;line-height:7.95px">0.83 (0.68-1.02)</div>
<div style="left:660.00px;top:444.00px;font-size:7.95px;line-height:7.95px">0.08</div>
<div style="left:10.90px;top:454.00px;font-size:7.8px;line-height:7.8px">Of moderate or severe</div>
<div style="left:174.30px;width:120px;text-align:center;top:454.00px;font-size:7.8px;line-height:7.8px">83</div>
<div style="left:285.80px;top:454.00px;font-size:7.8px;line-height:7.8px">0.60±0.11</div>
<div style="left:313.00px;width:120px;text-align:center;top:454.00px;font-size:7.8px;line-height:7.8px">154</div>
<div style="left:433.50px;top:454.00px;font-size:7.8px;line-height:7.8px">0.89±0.14</div>
<div style="left:587.60px;top:453.00px;font-size:7.95px;line-height:7.95px">0.68 (0.51-0.89)</div>
<div style="left:660.00px;top:453.00px;font-size:7.95px;line-height:7.95px">0.005</div>
<div style="left:10.90px;top:462.00px;font-size:7.8px;line-height:7.8px">Of severe</div>
<div style="left:174.30px;width:120px;text-align:center;top:462.00px;font-size:7.8px;line-height:7.8px">26</div>
<div style="left:285.80px;top:462.00px;font-size:7.8px;line-height:7.8px">0.23±0.07</div>
<div style="left:313.00px;width:120px;text-align:center;top:462.00px;font-size:7.8px;line-height:7.8px">26</div>
<div style="left:433.50px;top:462.00px;font-size:7.8px;line-height:7.8px">0.17±0.05</div>
<div style="left:587.60px;top:462.00px;font-size:7.95px;line-height:7.95px">1.37 (0.79-2.39)</div>
<div style="left:660.00px;top:462.00px;font-size:7.95px;line-height:7.95px">0.27</div>
<div style="left:0.60px;top:470.00px;font-size:8.03px;line-height:8.03px;font-weight:bold">No COPD exacerbations in the previous year at baseline</div>
<div style="left:214.30px;width:120px;text-align:center;top:470.00px;font-size:7.8px;line-height:7.8px">N = 372</div>
<div style="left:357.40px;width:120px;text-align:center;top:470.00px;font-size:7.8px;line-height:7.8px">N = 352</div>
<div style="left:10.90px;top:479.00px;font-size:7.8px;line-height:7.8px">Total</div>
<div style="left:174.30px;width:120px;text-align:center;top:479.00px;font-size:7.8px;line-height:7.8px">340</div>
<div style="left:285.80px;top:479.00px;font-size:7.8px;line-height:7.8px">0.54±0.05</div>
<div style="left:313.00px;width:120px;text-align:center;top:479.00px;font-size:7.8px;line-height:7.8px">303</div>
<div style="left:433.50px;top:479.00px;font-size:7.8px;line-height:7.8px">0.53±0.05</div>
<div style="left:587.60px;top:479.00px;font-size:7.95px;line-height:7.95px">1.02 (0.87-1.19)</div>
<div style="left:660.00px;top:479.00px;font-size:7.95px;line-height:7.95px">0.79</div>
<div style="left:10.90px;top:488.00px;font-size:7.8px;line-height:7.8px">Of moderate or severe</div>
<div style="left:174.30px;width:120px;text-align:center;top:488.00px;font-size:7.8px;line-height:7.8px">164</div>
<div style="left:285.80px;top:488.00px;font-size:7.8px;line-height:7.8px">0.26±0.03</div>
<div style="left:313.00px;width:120px;text-align:center;top:488.00px;font-size:7.8px;line-height:7.8px">160</div>
<div style="left:433.50px;top:488.00px;font-size:7.8px;line-height:7.8px">0.27±0.04</div>
<div style="left:587.60px;top:488.00px;font-size:7.95px;line-height:7.95px">0.93 (0.75-1.16)</div>
<div style="left:660.00px;top:488.00px;font-size:7.95px;line-height:7.95px">0.52</div>
<div style="left:10.90px;top:497.00px;font-size:7.8px;line-height:7.8px">Of severe</div>
<div style="left:174.30px;width:120px;text-align:center;top:497.00px;font-size:7.8px;line-height:7.8px">25</div>
<div style="left:285.80px;top:497.00px;font-size:7.8px;line-height:7.8px">0.03±0.01</div>
<div style="left:313.00px;width:120px;text-align:center;top:497.00px;font-size:7.8px;line-height:7.8px">27</div>
<div style="left:433.50px;top:497.00px;font-size:7.8px;line-height:7.8px">0.04±0.01</div>
<div style="left:587.60px;top:496.00px;font-size:7.95px;line-height:7.95px">0.85 (0.49-1.48)</div>
<div style="left:660.00px;top:496.00px;font-size:7.95px;line-height:7.95px">0.58</div>
<div style="left:404.40px;width:120px;text-align:center;top:513.00px;font-size:7.8px;line-height:7.8px">0.25</div>
<div style="left:429.40px;width:120px;text-align:center;top:513.00px;font-size:7.8px;line-height:7.8px">0.5</div>
<div style="left:454.40px;width:120px;text-align:center;top:513.00px;font-size:7.8px;line-height:7.8px">1</div>
<div style="left:479.40px;width:120px;text-align:center;top:513.00px;font-size:7.8px;line-height:7.8px">2</div>
<div style="left:504.40px;width:120px;text-align:center;top:513.00px;font-size:7.8px;line-height:7.8px">4</div>
<div style="left:440.30px;top:533.00px;font-size:6.45px;line-height:6.45px;font-weight:bold">N-acetylcysteine Better</div>
<div style="left:525.00px;top:533.00px;font-size:6.5px;line-height:6.5px;font-weight:bold">Placebo Better</div>
</div>
</body></html>
